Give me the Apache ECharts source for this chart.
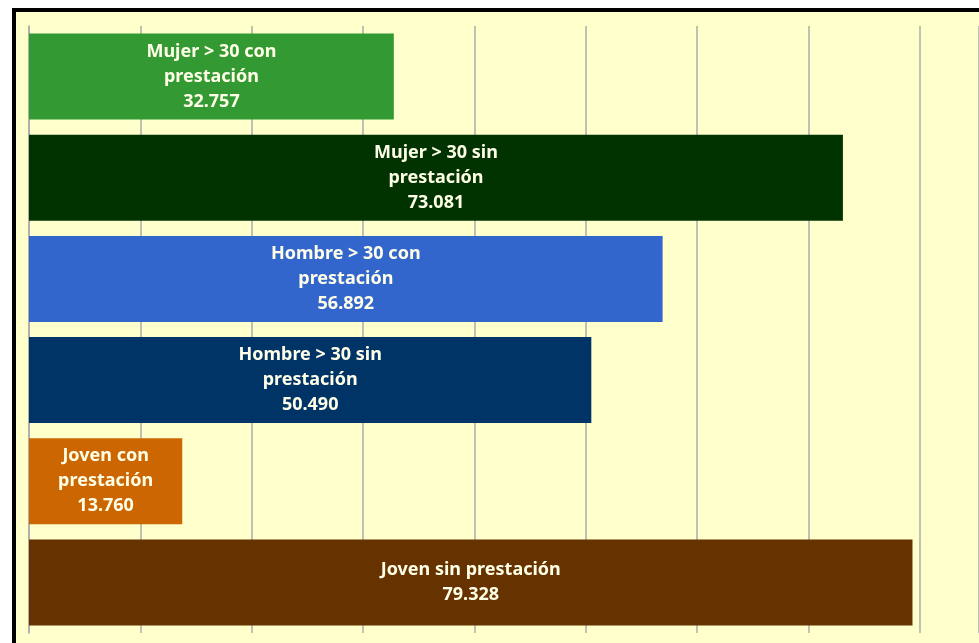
<!DOCTYPE html>
<html>
<head>
<meta charset="utf-8">
<script src="https://cdn.jsdelivr.net/npm/echarts@6/dist/echarts.min.js"></script>
<style>
  html, body { margin: 0; padding: 0; background: #fff; }
  #container { width: 979px; height: 643px; }
</style>
</head>
<body>
<div id="container"></div>
<script>
// categorias (con el salto de linea como en la etiqueta original)
var categories = [
  'Mujer > 30 con\nprestación',
  'Mujer > 30 sin\nprestación',
  'Hombre > 30 con\nprestación',
  'Hombre > 30 sin\nprestación',
  'Joven con\nprestación',
  'Joven sin prestación'
];
var values = [32757, 73081, 56892, 50490, 13760, 79328];
var barColors = ['#339933', '#003300', '#3366cc', '#003366', '#cc6600', '#663300'];

function fmt(v) {
  return String(v).replace(/\B(?=(\d{3})+(?!\d))/g, '.');
}

var dom = document.getElementById('container');
var myChart = echarts.init(dom);

var option = {
  backgroundColor: '#ffffff',
  animation: false,
  graphic: [{
    type: 'rect',
    z: -10,
    shape: { x: 14, y: 10, width: 1200, height: 900 },
    style: { fill: '#ffffcc', stroke: '#000000', lineWidth: 4 }
  }],
  // el grafico original esta cortado por la derecha
  grid: { left: 29, top: 26, right: 0, height: 607 },
  xAxis: {
    type: 'value',
    min: 0,
    max: 85300,
    interval: 10000,
    axisLabel: { show: false },
    axisTick: { show: false },
    axisLine: { show: false },
    splitLine: { show: true, lineStyle: { color: '#ababab', width: 1.5 } }
  },
  yAxis: {
    type: 'category',
    inverse: true,
    data: categories,
    axisLabel: { show: false },
    axisTick: { show: false },
    axisLine: { show: true, lineStyle: { color: '#ababab', width: 1.5 } }
  },
  series: [{
    type: 'bar',
    barCategoryGap: '15%',
    data: values.map(function (v, i) {
      return { value: v, itemStyle: { color: barColors[i] } };
    }),
    label: {
      show: true,
      position: 'inside',
      color: '#ffffe8',
      fontFamily: 'Noto Sans',
      fontWeight: 'bold',
      fontSize: 18,
      lineHeight: 25,
      align: 'center',
      formatter: function (p) {
        return p.name + '\n' + fmt(p.value);
      }
    }
  }]
};

myChart.setOption(option, true);
</script>
</body>
</html>
